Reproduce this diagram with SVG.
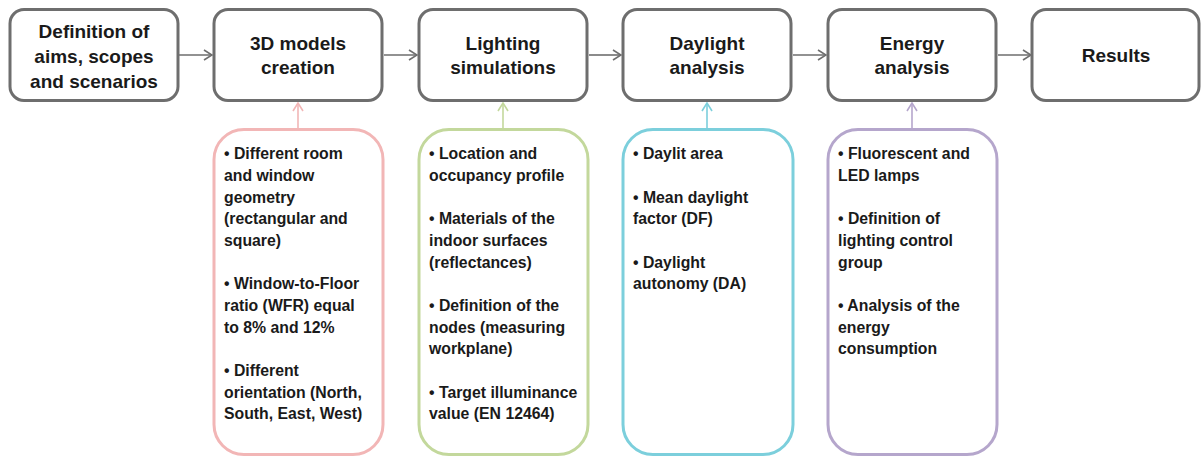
<svg xmlns="http://www.w3.org/2000/svg" width="1202" height="457" viewBox="0 0 1202 457">
<defs>
<style>
.step{fill:#fff;stroke:#6e6e6e;stroke-width:3}
.det{fill:#fff;stroke-width:3}
.tt{font-family:"Liberation Sans",Arial,sans-serif;font-weight:bold;font-size:19px;fill:#1a1a1a;text-anchor:middle}
.bt{font-family:"Liberation Sans",Arial,sans-serif;font-weight:bold;font-size:15.8px;fill:#1a1a1a}
.conn{fill:none;stroke-width:1.6}
</style>
<marker id="mg" viewBox="0 0 10 12" refX="9" refY="6" markerWidth="10" markerHeight="12" markerUnits="userSpaceOnUse" orient="auto"><path d="M1,1 L9,6 L1,11" fill="none" stroke="#6e6e6e" stroke-width="1.6"/></marker>
<marker id="mp" viewBox="0 0 10 12" refX="9" refY="6" markerWidth="10" markerHeight="12" markerUnits="userSpaceOnUse" orient="auto"><path d="M1,1 L9,6 L1,11" fill="none" stroke="#f2b6b6" stroke-width="1.6"/></marker>
<marker id="mgr" viewBox="0 0 10 12" refX="9" refY="6" markerWidth="10" markerHeight="12" markerUnits="userSpaceOnUse" orient="auto"><path d="M1,1 L9,6 L1,11" fill="none" stroke="#c3d89c" stroke-width="1.6"/></marker>
<marker id="mc" viewBox="0 0 10 12" refX="9" refY="6" markerWidth="10" markerHeight="12" markerUnits="userSpaceOnUse" orient="auto"><path d="M1,1 L9,6 L1,11" fill="none" stroke="#7ccfdc" stroke-width="1.6"/></marker>
<marker id="mv" viewBox="0 0 10 12" refX="9" refY="6" markerWidth="10" markerHeight="12" markerUnits="userSpaceOnUse" orient="auto"><path d="M1,1 L9,6 L1,11" fill="none" stroke="#b5a6cc" stroke-width="1.6"/></marker>
</defs>
<rect width="1202" height="457" fill="#fff"/>

<g id="connectors">
<line class="conn" x1="179" y1="55" x2="212" y2="55" stroke="#6e6e6e" marker-end="url(#mg)"/>
<line class="conn" x1="384" y1="55" x2="417" y2="55" stroke="#6e6e6e" marker-end="url(#mg)"/>
<line class="conn" x1="589" y1="55" x2="621" y2="55" stroke="#6e6e6e" marker-end="url(#mg)"/>
<line class="conn" x1="793" y1="55" x2="826" y2="55" stroke="#6e6e6e" marker-end="url(#mg)"/>
<line class="conn" x1="998" y1="55" x2="1031" y2="55" stroke="#6e6e6e" marker-end="url(#mg)"/>
<line class="conn" x1="298" y1="128" x2="298" y2="103" stroke="#f2b6b6" marker-end="url(#mp)"/>
<line class="conn" x1="503" y1="128" x2="503" y2="103" stroke="#c3d89c" marker-end="url(#mgr)"/>
<line class="conn" x1="707" y1="128" x2="707" y2="103" stroke="#7ccfdc" marker-end="url(#mc)"/>
<line class="conn" x1="912" y1="128" x2="912" y2="103" stroke="#b5a6cc" marker-end="url(#mv)"/>
</g>

<g id="step1">
<rect class="step" x="10" y="9.5" width="168" height="91" rx="14"/>
<text class="tt" x="94" y="38">Definition of</text>
<text class="tt" x="94" y="63">aims, scopes</text>
<text class="tt" x="94" y="88">and scenarios</text>
</g>
<g id="step2">
<rect class="step" x="214" y="9.5" width="168" height="91" rx="14"/>
<text class="tt" x="298" y="50">3D models</text>
<text class="tt" x="298" y="74">creation</text>
</g>
<g id="step3">
<rect class="step" x="419" y="9.5" width="168" height="91" rx="14"/>
<text class="tt" x="503" y="50">Lighting</text>
<text class="tt" x="503" y="74">simulations</text>
</g>
<g id="step4">
<rect class="step" x="623" y="9.5" width="168" height="91" rx="14"/>
<text class="tt" x="707" y="50">Daylight</text>
<text class="tt" x="707" y="74">analysis</text>
</g>
<g id="step5">
<rect class="step" x="828" y="9.5" width="168" height="91" rx="14"/>
<text class="tt" x="912" y="50">Energy</text>
<text class="tt" x="912" y="74">analysis</text>
</g>
<g id="step6">
<rect class="step" x="1032" y="9.5" width="167" height="91" rx="14"/>
<text class="tt" x="1116" y="62">Results</text>
</g>

<g id="detail1">
<rect class="det" x="214" y="129.5" width="169" height="325" rx="30" stroke="#f2b6b6"/>
<text class="bt">
<tspan x="224" y="159">• Different room</tspan>
<tspan x="224" y="181">and window</tspan>
<tspan x="224" y="203">geometry</tspan>
<tspan x="224" y="224">(rectangular and</tspan>
<tspan x="224" y="246">square)</tspan>
<tspan x="224" y="289">• Window-to-Floor</tspan>
<tspan x="224" y="311">ratio (WFR) equal</tspan>
<tspan x="224" y="333">to 8% and 12%</tspan>
<tspan x="224" y="376">• Different</tspan>
<tspan x="224" y="398">orientation (North,</tspan>
<tspan x="224" y="419">South, East, West)</tspan>
</text>
</g>
<g id="detail2">
<rect class="det" x="419" y="129.5" width="169" height="325" rx="30" stroke="#c3d89c"/>
<text class="bt">
<tspan x="429" y="159">• Location and</tspan>
<tspan x="429" y="181">occupancy profile</tspan>
<tspan x="429" y="224">• Materials of the</tspan>
<tspan x="429" y="246">indoor surfaces</tspan>
<tspan x="429" y="268">(reflectances)</tspan>
<tspan x="429" y="311">• Definition of the</tspan>
<tspan x="429" y="333">nodes (measuring</tspan>
<tspan x="429" y="354">workplane)</tspan>
<tspan x="429" y="398">• Target illuminance</tspan>
<tspan x="429" y="419">value (EN 12464)</tspan>
</text>
</g>
<g id="detail3">
<rect class="det" x="623" y="129.5" width="170" height="325" rx="30" stroke="#7ccfdc"/>
<text class="bt">
<tspan x="633" y="159">• Daylit area</tspan>
<tspan x="633" y="203">• Mean daylight</tspan>
<tspan x="633" y="224">factor (DF)</tspan>
<tspan x="633" y="268">• Daylight</tspan>
<tspan x="633" y="289">autonomy (DA)</tspan>
</text>
</g>
<g id="detail4">
<rect class="det" x="828" y="129.5" width="169" height="325" rx="30" stroke="#b5a6cc"/>
<text class="bt">
<tspan x="838" y="159">• Fluorescent and</tspan>
<tspan x="838" y="181">LED lamps</tspan>
<tspan x="838" y="224">• Definition of</tspan>
<tspan x="838" y="246">lighting control</tspan>
<tspan x="838" y="268">group</tspan>
<tspan x="838" y="311">• Analysis of the</tspan>
<tspan x="838" y="333">energy</tspan>
<tspan x="838" y="354">consumption</tspan>
</text>
</g>
</svg>
